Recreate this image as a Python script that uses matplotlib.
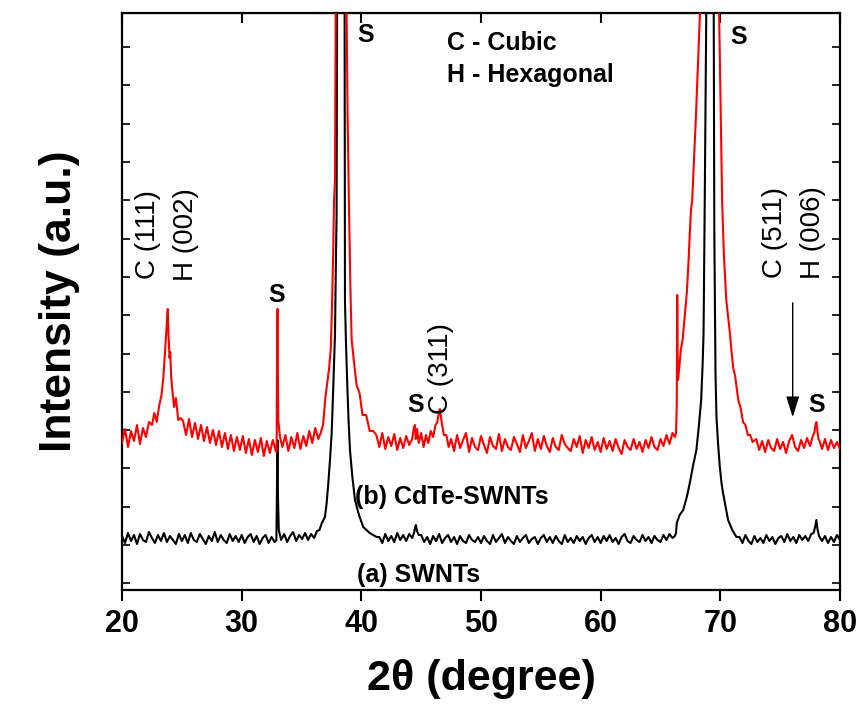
import numpy as np
import matplotlib
matplotlib.use("Agg")
import matplotlib.pyplot as plt
from matplotlib.ticker import MultipleLocator

plt.rcParams['font.family'] = ['Liberation Sans', 'DejaVu Sans']

# ---- data (intensity in arbitrary units) ----
# baseline stretches: start angle, then values every 0.25 deg
# peaks: explicit (2theta, intensity) lists

# (b) CdTe-SWNTs, red trace
red_base1 = [102, 116, 98, 114, 104, 120, 101, 117, 108, 123]                      # from 20.0
red_pk24_x = [22.5, 22.7, 22.9, 23.1, 23.3, 23.45, 23.6, 23.7, 23.78, 23.82, 23.87,
              23.92, 23.97, 24.03, 24.1, 24.2, 24.35, 24.5, 24.7, 24.9]
red_pk24_y = [120, 132, 123, 139, 150, 167, 195, 215, 230, 236, 215,
              200, 187, 193, 170, 155, 138, 147, 125, 127]
red_base2 = [124, 110, 126, 108, 122, 106, 120, 104, 118, 102, 115, 100, 114, 98, 112, 96,
             110, 94, 108, 95, 109, 92, 106, 90, 105, 93, 107, 89, 104, 92, 105, 94]  # from 25.1
red_pk33_x = [32.92, 32.96, 32.99, 33.02, 33.06, 33.12, 33.2]
red_pk33_y = [93, 200, 236, 180, 125, 118, 108]
red_base3 = [98, 110, 94, 108, 97, 112, 96, 109, 99, 114, 102, 117, 106]            # from 33.4
red_pk38_x = [36.6, 36.8, 37.0, 37.15, 37.3, 37.45, 37.55, 37.65, 37.72, 37.8, 37.85, 37.95,
              38.3, 38.65, 38.77, 38.85, 38.96, 39.08, 39.19, 39.35, 39.6, 39.85, 40.1,
              40.4, 40.7, 41.0]
red_pk38_y = [112, 120, 148, 162, 176, 197, 240, 295, 345, 365, 532, 650,
              800, 650, 532, 430, 345, 260, 205, 187, 160, 152, 130,
              130, 114, 114]
red_base4 = [110, 98, 112, 96, 108, 99, 111, 95, 107, 97, 109, 100]                  # from 41.25
red_pk46_x = [44.25, 44.4, 44.48, 44.55, 44.65, 44.8, 45.0, 45.2, 45.4, 45.6, 45.8, 46.0,
              46.2, 46.35, 46.5, 46.57, 46.65, 46.75, 46.9, 47.1, 47.3]
red_pk46_y = [106, 118, 120, 106, 116, 102, 112, 98, 110, 102, 114, 108,
              120, 123, 134, 136, 128, 120, 110, 110, 98]
red_base5 = [106, 94, 110, 97, 105, 112, 93, 107, 98, 95, 109, 100, 92, 108, 99, 96, 111, 94, 106, 98,
             95, 108, 101, 93, 110, 97, 104, 112, 94, 106, 96, 109, 99, 93, 107, 98, 95, 110, 101, 97,
             94, 106, 98, 109, 92, 105, 97, 108, 95, 103, 93, 107, 96, 104, 94, 106, 97, 91, 105, 98,
             95, 106, 96, 103, 93, 105, 97, 108, 98, 95, 106, 99, 110, 101, 112]        # from 47.5
red_pk69_x = [66.2, 66.3, 66.36, 66.4, 66.44, 66.47, 66.55, 66.7, 66.85, 67.0, 67.2, 67.35,
              67.45, 67.55, 67.65, 67.8, 67.95, 68.1, 68.3, 68.6, 69.1, 69.6, 69.9,
              70.15, 70.3, 70.5, 70.65, 70.8, 70.95, 71.07, 71.25, 71.5, 71.7, 71.9,
              72.1, 72.3, 72.5, 72.7]
red_pk69_y = [108, 112, 140, 250, 180, 165, 175, 195, 205, 225, 252, 285,
              312, 335, 345, 385, 425, 470, 532, 650, 800, 650, 532,
              345, 290, 245, 228, 212, 192, 178, 168, 145, 137, 123,
              120, 110, 110, 103]
red_base6 = [106, 95, 104, 93, 105, 97, 94, 106, 96, 103, 92, 104, 110, 98, 94, 105,
             97, 107, 99, 110]                                                      # from 73.0
red_pk78_x = [77.85, 77.95, 78.03, 78.1, 78.2, 78.3]
red_pk78_y = [112, 120, 123, 116, 106, 104]
red_base7 = [96, 106, 95, 105, 97, 103, 96]                                          # from 78.5

# (a) SWNTs, black trace
blk_base1 = [9, 2, 12, 4, 10, 1, 11, 5, 3, 13, 7, 2, 10, 4, 12, 3, 9, 5, 1, 11,
             4, 10, 2, 12, 5, 3, 11, 6, 1, 9, 4, 13, 3, 10, 5, 2, 11, 4, 9, 3,
             10, 2, 8, 11, 3, 9, 1, 7, 10, 2, 8, 3]                                  # from 20.0
blk_pk33_x = [32.9, 32.95, 32.99, 33.03, 33.1, 33.2]
blk_pk33_y = [5, 60, 105, 50, 15, 10]
blk_base2 = [5, 11, 3, 9, 13, 4, 10, 6, 12, 5, 11, 7, 14]                            # from 33.3
blk_pk38_x = [36.5, 36.7, 36.96, 37.1, 37.24, 37.38, 37.52, 37.66, 37.8, 37.88, 37.93,
              37.98, 38.05, 38.3, 38.55, 38.6, 38.63, 38.72, 38.82, 38.93, 39.05, 39.25,
              39.47, 39.8, 40.16, 40.7, 41.27]
blk_pk38_y = [15, 22, 28, 42, 62, 85, 112, 160, 212, 290, 328,
              560, 750, 850, 750, 560, 245, 200, 162, 125, 95, 68,
              45, 30, 18, 12, 8]
blk_base3 = [8, 2, 11, 4, 9, 3, 12, 5, 10, 4, 11, 7]                                 # from 41.5
blk_pk44_x = [44.4, 44.5, 44.56, 44.65, 44.8]
blk_pk44_y = [12, 18, 20, 14, 10]
blk_base4 = [10, 3, 8, 1, 9, 4, 11, 2, 7, 10, 3, 8, 1, 9, 4, 2, 10, 5, 3, 8,
             2, 9, 4, 1, 10, 3, 7, 11, 2, 8, 4, 1, 9, 3, 7, 10, 2, 6, 8, 1,
             7, 10, 3, 8, 2, 9, 4, 1, 10, 3, 7, 2, 9, 4, 8, 1, 7, 10, 3, 8,
             2, 9, 4, 10, 3, 7, 1, 8, 11, 4, 2, 9, 5, 3, 10, 4, 8, 2, 9, 5,
             3, 10, 5, 11, 7]                                                        # from 45.0
blk_pk69_x = [66.2, 66.3, 66.36, 66.45, 66.6, 66.9, 67.2, 67.45, 67.7, 68.0, 68.2, 68.4,
              68.52, 68.6, 68.7, 68.83, 68.9, 69.15, 69.4, 69.45, 69.5, 69.6, 69.68,
              69.82, 69.96, 70.1, 70.23, 70.45, 70.65, 71.0, 71.35]
blk_pk69_y = [9, 12, 22, 25, 30, 35, 48, 62, 78, 95, 118, 145,
              180, 212, 345, 532, 700, 850, 700, 532, 312, 170, 128,
              100, 78, 62, 52, 38, 25, 15, 8]
blk_base5 = [8, 2, 10, 4, 1, 9, 3, 7, 2, 10, 4, 8, 1, 7, 9, 3, 11, 4, 8, 2, 10, 5, 9, 4, 11]  # from 71.6
blk_pk78_x = [77.8, 77.92, 78.03, 78.12, 78.25]
blk_pk78_y = [12, 18, 25, 16, 9]
blk_base6 = [4, 9, 2, 8, 3, 10, 5]                                                   # from 78.5


def base(x0, vals, dx=0.25):
    return x0 + dx * np.arange(len(vals)), np.asarray(vals, float)


def join(parts):
    xs = np.concatenate([np.asarray(p[0], float) for p in parts])
    ys = np.concatenate([np.asarray(p[1], float) for p in parts])
    return xs, ys


red_x, red_y = join([base(20.0, red_base1), (red_pk24_x, red_pk24_y),
                     base(25.1, red_base2), (red_pk33_x, red_pk33_y),
                     base(33.4, red_base3), (red_pk38_x, red_pk38_y),
                     base(41.25, red_base4), (red_pk46_x, red_pk46_y),
                     base(47.5, red_base5), (red_pk69_x, red_pk69_y),
                     base(73.0, red_base6), (red_pk78_x, red_pk78_y),
                     base(78.5, red_base7)])
blk_x, blk_y = join([base(20.0, blk_base1), (blk_pk33_x, blk_pk33_y),
                     base(33.3, blk_base2), (blk_pk38_x, blk_pk38_y),
                     base(41.5, blk_base3), (blk_pk44_x, blk_pk44_y),
                     base(45.0, blk_base4), (blk_pk69_x, blk_pk69_y),
                     base(71.6, blk_base5), (blk_pk78_x, blk_pk78_y),
                     base(78.5, blk_base6)])

# ---- figure ----
fig = plt.figure(figsize=(8.6, 7.1), dpi=100)
ax = fig.add_axes([0.1419, 0.169, 0.8348, 0.8127])

ax.plot(blk_x, blk_y, color='black', lw=1.5, zorder=2)
ax.plot(red_x, red_y, color='#ff0000', lw=1.5, zorder=3)

ax.set_xlim(20, 80)
ax.set_ylim(-45, 532)
ax.xaxis.set_major_locator(MultipleLocator(10))
ax.yaxis.set_major_locator(MultipleLocator(38.3))

for sp in ax.spines.values():
    sp.set_linewidth(1.6)

ax.tick_params(axis='x', direction='out', length=8, width=1.5, pad=6)
ax.tick_params(axis='y', direction='in', length=6, width=1.2,
               left=True, right=True, labelleft=False)
top = ax.secondary_xaxis('top')
top.xaxis.set_major_locator(MultipleLocator(10))
top.tick_params(axis='x', direction='in', length=7, width=1.5, labeltop=False)

for lab in ax.get_xticklabels():
    lab.set_fontweight('bold')
    lab.set_fontsize(22)

ax.set_xlabel('2θ (degree)', fontsize=31, fontweight='bold', labelpad=14)
ax.set_ylabel('Intensity (a.u.)', fontsize=32, fontweight='bold', labelpad=30)

# ---- annotations ----
bold = dict(fontsize=18, fontweight='bold', ha='center', va='center')
ax.text(40.35, 510, 'S', **bold)
ax.text(71.5, 508, 'S', **bold)
ax.text(32.95, 250, 'S', **bold)
ax.text(44.5, 140, 'S', **bold)
ax.text(78.05, 140, 'S', **bold)

ax.text(47.2, 502, 'C - Cubic', fontsize=18, fontweight='bold', va='center')
ax.text(47.2, 470, 'H - Hexagonal', fontsize=18, fontweight='bold', va='center')

rot = dict(fontsize=20, rotation=90, ha='center', va='center')
ax.text(22.2, 310, 'C (111)', **rot)
ax.text(25.35, 310, 'H (002)', **rot)
ax.text(46.65, 177, 'C (311)', **rot)
ax.text(74.55, 312, 'C (511)', **rot)
ax.text(77.75, 312, 'H (006)', **rot)

ax.annotate('', xy=(76.05, 125), xytext=(76.05, 245),
            arrowprops=dict(arrowstyle='-|>,head_length=0.8,head_width=0.25',
                            color='black', lw=1, mutation_scale=16))

ax.text(39.47, 48, '(b) CdTe-SWNTs', fontsize=18, fontweight='bold', va='center')
ax.text(39.6, -30, '(a) SWNTs', fontsize=18, fontweight='bold', va='center')

fig.savefig('out.png', dpi=100)
